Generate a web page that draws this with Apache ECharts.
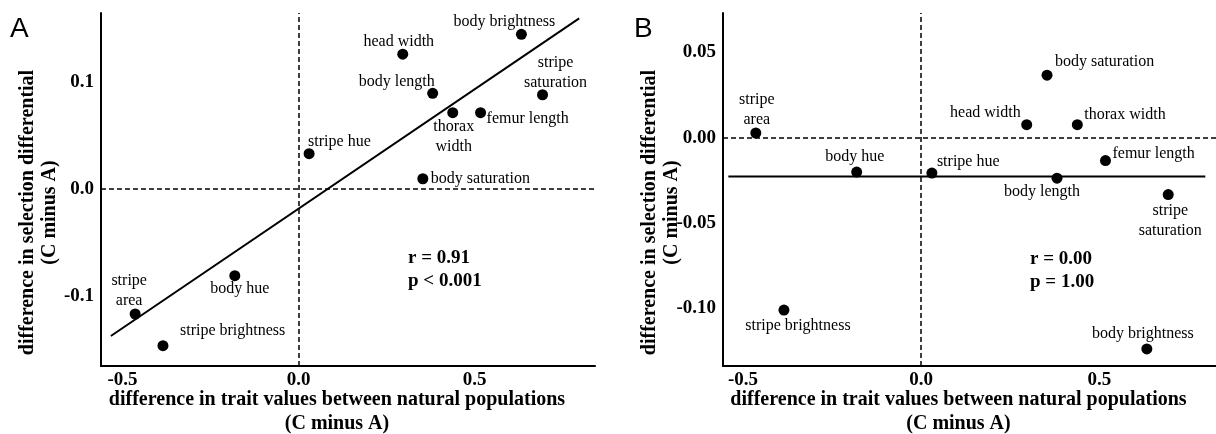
<!DOCTYPE html>
<html>
<head>
<meta charset="utf-8">
<script src="https://cdn.jsdelivr.net/npm/echarts@6/dist/echarts.min.js"></script>
<style>
  html, body { margin: 0; padding: 0; background: #fff; }
  #chart { width: 1216px; height: 434px; }
</style>
</head>
<body>
<div id="chart"></div>
<script>
// trait names and the difference in trait value between populations (C minus A)
const traits = ['body brightness', 'head width', 'body length', 'stripe saturation', 'thorax width',
  'femur length', 'stripe hue', 'body saturation', 'body hue', 'stripe area', 'stripe brightness'];
const traitDiff = [0.633, 0.296, 0.381, 0.693, 0.438, 0.517, 0.03, 0.353, -0.181, -0.464, -0.385];

// difference in selection differential, panel A and panel B
const selDiffA = [0.1446, 0.126, 0.0894, 0.0881, 0.0713, 0.0713, 0.033, 0.0096, -0.081, -0.1168, -0.1464];
const selDiffB = [-0.124, 0.0076, -0.0238, -0.0334, 0.0076, -0.0135, -0.0208, 0.0366, -0.0202, 0.0027, -0.1012];

// fitted lines (end points)
const fitAx = [-0.533, 0.797];
const fitAy = [-0.1374, 0.1595];
const fitBx = [-0.541, 0.797];
const fitBy = [-0.0228, -0.0228];

// tick labels
const xTicks = [-0.5, 0, 0.5];
const yTicksA = [-0.1, 0, 0.1];
const yTicksB = [-0.1, -0.05, 0, 0.05];

const statsA = ['r = 0.91', 'p < 0.001'];
const statsB = ['r = 0.00', 'p = 1.00'];

// where each point label sits: [align, dx, dy, wrap onto two lines]
const placeA = {
  'body brightness': ['center', -17, -12, false],
  'head width': ['center', -4, -12, false],
  'body length': ['center', -36, -12, false],
  'stripe saturation': ['center', 13, -22, true],
  'thorax width': ['center', 1, 24, true],
  'femur length': ['left', 6, 6, false],
  'stripe hue': ['left', -1, -12, false],
  'body saturation': ['left', 8, 0, false],
  'body hue': ['center', 5, 13, false],
  'stripe area': ['center', -6, -23, true],
  'stripe brightness': ['left', 17, -15, false]
};
const placeB = {
  'body brightness': ['center', -4, -15, false],
  'head width': ['right', -6, -12, false],
  'body length': ['center', -15, 14, false],
  'stripe saturation': ['center', 2, 26, true],
  'thorax width': ['left', 7, -10, false],
  'femur length': ['left', 7, -7, false],
  'stripe hue': ['left', 5, -11, false],
  'body saturation': ['left', 8, -13, false],
  'body hue': ['center', -2, -15, false],
  'stripe area': ['center', 1, -23, true],
  'stripe brightness': ['center', 14, 16, false]
};

const SERIF = '"Liberation Serif", "Times New Roman", serif';
const SANS = '"Liberation Sans", Arial, sans-serif';

function points(ys, place) {
  return traits.map((name, i) => {
    const p = place[name];
    return {
      name: name,
      value: [traitDiff[i], ys[i]],
      label: {
        align: p[0],
        offset: [p[1], p[2]],
        formatter: p[3] ? name.replace(' ', '\n') : name
      }
    };
  });
}

function xAxis(gridIndex, min, max) {
  return {
    type: 'value', gridIndex, min, max,
    name: 'difference in trait values between natural populations\n(C minus A)',
    nameLocation: 'middle', nameGap: 22, nameMoveOverlap: false,
    nameTextStyle: { fontFamily: SERIF, fontWeight: 'bold', fontSize: 20, lineHeight: 24, color: '#000', padding: [0, 22, 0, 0] },
    axisLine: { onZero: false, lineStyle: { color: '#000', width: 2 } },
    axisTick: { show: false },
    splitLine: { show: false },
    axisLabel: {
      customValues: xTicks, formatter: v => v.toFixed(1), margin: 5,
      fontFamily: SERIF, fontWeight: 'bold', fontSize: 19, color: '#000'
    }
  };
}

function yAxis(gridIndex, min, max, ticks, digits, gap) {
  return {
    type: 'value', gridIndex, min, max,
    name: 'difference in selection differential\n(C minus A)',
    nameLocation: 'middle', nameGap: gap, nameRotate: 90, nameMoveOverlap: false,
    nameTextStyle: { fontFamily: SERIF, fontWeight: 'bold', fontSize: 20, lineHeight: 22, color: '#000', padding: [0, 46, 0, 0] },
    axisLine: { onZero: false, lineStyle: { color: '#000', width: 2 } },
    axisTick: { show: false },
    splitLine: { show: false },
    axisLabel: {
      customValues: ticks, formatter: v => v.toFixed(digits), margin: 7,
      fontFamily: SERIF, fontWeight: 'bold', fontSize: 19, color: '#000'
    }
  };
}

const zeroLines = {
  silent: true, symbol: 'none', animation: false,
  label: { show: false },
  lineStyle: { type: [5, 3], color: '#000', width: 1.5 },
  data: [{ xAxis: 0 }, { yAxis: 0 }]
};

function scatter(idx, ys, place) {
  return {
    type: 'scatter', xAxisIndex: idx, yAxisIndex: idx,
    symbolSize: 11,
    itemStyle: { color: '#000', opacity: 1 },
    label: {
      show: true, position: 'inside', verticalAlign: 'middle',
      fontFamily: SERIF, fontSize: 16, lineHeight: 20, color: '#000', opacity: 1
    },
    data: points(ys, place),
    markLine: zeroLines,
    z: 3
  };
}

function fit(idx, xs, ys) {
  return {
    type: 'line', xAxisIndex: idx, yAxisIndex: idx,
    showSymbol: false, silent: true,
    lineStyle: { color: '#000', width: 2 },
    data: xs.map((x, i) => [x, ys[i]]),
    z: 2
  };
}

function statText(left, top, lines) {
  return {
    type: 'text', left, top,
    style: { text: lines.join('\n'), font: 'bold 19px ' + SERIF, lineHeight: 23, fill: '#000' }
  };
}

const chart = echarts.init(document.getElementById('chart'), null, { renderer: 'canvas' });
chart.setOption({
  animation: false,
  backgroundColor: '#fff',
  grid: [
    { left: 101, top: 13, width: 494, height: 353, outerBoundsMode: 'none', containLabel: false },
    { left: 723, top: 13, width: 493, height: 353, outerBoundsMode: 'none', containLabel: false }
  ],
  xAxis: [xAxis(0, -0.561, 0.842), xAxis(1, -0.556, 0.827)],
  yAxis: [yAxis(0, -0.1654, 0.1645, yTicksA, 1, 40), yAxis(1, -0.134, 0.0731, yTicksB, 2, 40)],
  series: [
    fit(0, fitAx, fitAy),
    scatter(0, selDiffA, placeA),
    fit(1, fitBx, fitBy),
    scatter(1, selDiffB, placeB)
  ],
  graphic: [
    { type: 'text', left: 10, top: 15, style: { text: 'A', font: '28px ' + SANS, fill: '#000' } },
    { type: 'text', left: 634, top: 15, style: { text: 'B', font: '28px ' + SANS, fill: '#000' } },
    statText(408, 247, statsA),
    statText(1030, 248, statsB)
  ]
});
</script>
</body>
</html>
